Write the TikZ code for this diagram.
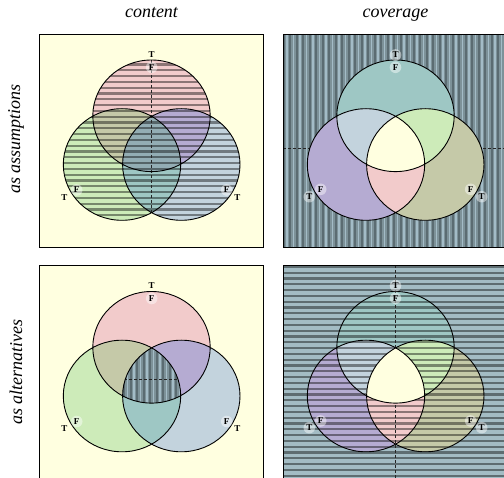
\documentclass[tikz,border=0pt]{standalone}
\usepackage{fontspec}
\setmainfont{Liberation Serif}
\definecolor{bgy}{HTML}{FFFFE0}
\definecolor{cA}{HTML}{F2CBCB}
\definecolor{cB}{HTML}{CDEBB9}
\definecolor{cC}{HTML}{C3D3DD}
\definecolor{cAB}{HTML}{C5C9A8}
\definecolor{cAC}{HTML}{B5ABD2}
\definecolor{cBC}{HTML}{9EC7C4}
\definecolor{cABC}{HTML}{93ADB4}
\definecolor{vbase}{HTML}{7D9299}
\definecolor{vdark}{HTML}{5B6C72}
\definecolor{vlight}{HTML}{A3BCC7}
\definecolor{hbase}{HTML}{A3BCC4}
\newcommand\clipA{\clip (151.5,115.8) ellipse [x radius=58.7, y radius=55.8];}
\newcommand\clipB{\clip (122,164.5) ellipse [x radius=58.7, y radius=55.8];}
\newcommand\clipC{\clip (181.3,164.5) ellipse [x radius=58.7, y radius=55.8];}
\newcommand\outlines{\draw[circline] (151.5,115.8) ellipse [x radius=58.7, y radius=55.8]
  (122,164.5) ellipse [x radius=58.7, y radius=55.8]
  (181.3,164.5) ellipse [x radius=58.7, y radius=55.8];}
\newcommand\plainlayer[1]{\fill[#1] (39,34) rectangle (263,247);}
\newcommand\hlayer[1]{\fill[#1] (39,34) rectangle (263,247);
  \foreach \yy in {35.5,41.3,...,247} \draw[hstripe] (39,\yy) -- (263,\yy);}
\newcommand\vlayer{\fill[vbase] (39,34) rectangle (263,247);
  \foreach \xx in {39.5,46,...,263} {\draw[vdark,line width=2pt] (\xx,34) -- (\xx,247);
    \draw[vlight,line width=1.6pt] (\xx+3.3,34) -- (\xx+3.3,247);}}
\newcommand\regions[7]{%
  \begin{scope}\clipA #1\end{scope}
  \begin{scope}\clipB #2\end{scope}
  \begin{scope}\clipC #3\end{scope}
  \begin{scope}\clipA\clipB #4\end{scope}
  \begin{scope}\clipA\clipC #5\end{scope}
  \begin{scope}\clipB\clipC #6\end{scope}
  \begin{scope}\clipA\clipB\clipC #7\end{scope}}
\newcommand\tf[4]{\node[tflab] (#4) at (#1,#2) {#3};}
\newcommand\tfc[4]{\fill[labdisc] (#1,#2) circle (5.8); \node[tflab] (#4) at (#1,#2) {#3};}
\begin{document}
\begin{tikzpicture}[x=1pt,y=-1pt,
  hstripe/.style={black,opacity=.42,line width=2.2pt},
  dashln/.style={black!85,line width=.6pt,dash pattern=on 3pt off 2pt},
  circline/.style={black,line width=.9pt},
  frame/.style={black,line width=.8pt},
  tflab/.style={font=\bfseries\fontsize{9}{10}\selectfont,inner sep=0pt},
  labdisc/.style={white,opacity=.45},
  title/.style={font=\itshape\fontsize{18}{20}\selectfont,inner sep=0pt}]
\useasboundingbox (0,0) rectangle (504,478);
\clip (0,0) rectangle (504,478);
\node[title,anchor=base] (t1) at (151.5,18) {content};
\node[title,anchor=base] (t2) at (395.5,18) {coverage};
\node[title,rotate=90] (s1) at (16,139) {as assumptions};
\node[title,rotate=90] (s2) at (16,372) {as alternatives};
% ---------- top left
\begin{scope}
\plainlayer{bgy}
\regions{\hlayer{cA}}{\hlayer{cB}}{\hlayer{cC}}{\hlayer{cAB}}{\hlayer{cAC}}{\hlayer{cBC}}{\hlayer{cABC}}
\draw[dashln] (151.5,60) -- (151.5,212.8);
\outlines
\draw[frame] (39,34) rectangle (263,247);
\tf{151.7}{55}{T}{tlT1} \tfc{151.7}{67.3}{F}{tlF1}
\tf{64.3}{197.3}{T}{tlT2} \tfc{76.7}{190}{F}{tlF2}
\tfc{226.7}{190}{F}{tlF3} \tf{237.3}{197.3}{T}{tlT3}
\end{scope}
% ---------- top right
\begin{scope}[shift={(244,0)}]
\vlayer
\draw[dashln] (39,148.3) -- (263,148.3);
\regions{\plainlayer{cBC}}{\plainlayer{cAC}}{\plainlayer{cAB}}{\plainlayer{cC}}{\plainlayer{cB}}{\plainlayer{cA}}{\plainlayer{bgy}}
\outlines
\draw[frame] (39,34) rectangle (263,247);
\tfc{151.5}{55}{T}{trT1} \tfc{151.5}{67.3}{F}{trF1}
\tfc{65.3}{196.7}{T}{trT2} \tfc{76.7}{189.3}{F}{trF2}
\tfc{226.7}{189.3}{F}{trF3} \tfc{237.7}{196.7}{T}{trT3}
\end{scope}
% ---------- bottom left
\begin{scope}[shift={(0,231.5)}]
\plainlayer{bgy}
\regions{\plainlayer{cA}}{\plainlayer{cB}}{\plainlayer{cC}}{\plainlayer{cAB}}{\plainlayer{cAC}}{\plainlayer{cBC}}{\vlayer\draw[dashln] (39,148.3) -- (263,148.3);}
\outlines
\draw[frame] (39,34) rectangle (263,247);
\tf{151.7}{54}{T}{blT1} \tfc{151.7}{67}{F}{blF1}
\tf{64.3}{197}{T}{blT2} \tfc{76.7}{190}{F}{blF2}
\tfc{226.7}{190}{F}{blF3} \tf{237.3}{197}{T}{blT3}
\end{scope}
% ---------- bottom right
\begin{scope}[shift={(244,231.5)}]
\hlayer{hbase}
\regions{\hlayer{cBC}}{\hlayer{cAC}}{\hlayer{cAB}}{\hlayer{cC}}{\hlayer{cB}}{\hlayer{cA}}{}
\draw[dashln] (151.5,34) -- (151.5,247);
\begin{scope}\clipA\clipB\clipC\plainlayer{bgy}\end{scope}
\outlines
\draw[frame] (39,34) rectangle (263,247);
\tfc{151.5}{54.2}{T}{brT1} \tfc{151.5}{66.8}{F}{brF1}
\tfc{65.3}{196.2}{T}{brT2} \tfc{76.7}{189.5}{F}{brF2}
\tfc{226.7}{189.5}{F}{brF3} \tfc{237.7}{196.2}{T}{brT3}
\end{scope}
\end{tikzpicture}
\end{document}
